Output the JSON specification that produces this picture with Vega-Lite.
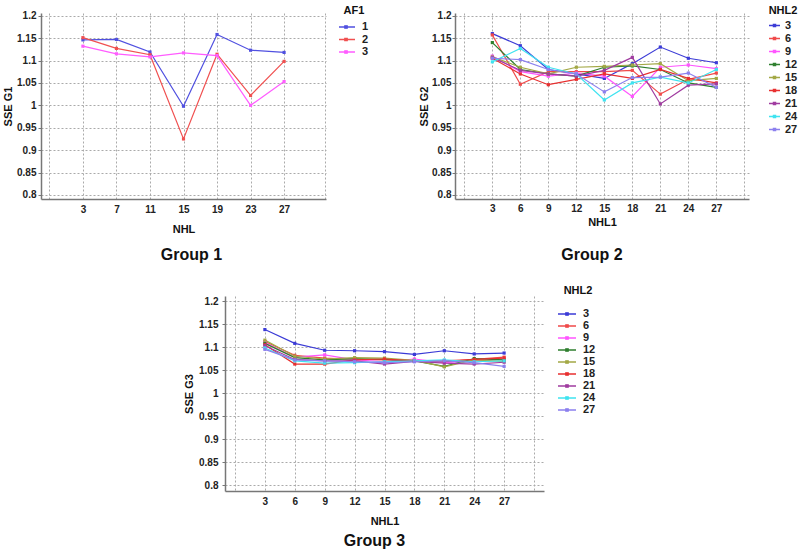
{
  "$schema": "https://vega.github.io/schema/vega-lite/v6.json",
  "background": "white",
  "padding": {"left": 2, "top": 4, "right": 2, "bottom": 2},
  "config": {
    "font": "Liberation Sans",
    "view": {"stroke": null},
    "axis": {
      "labelFont": "Liberation Sans Narrow, Liberation Sans",
      "labelFontWeight": "bold",
      "labelFontSize": 10,
      "labelColor": "#222",
      "titleFont": "Liberation Sans",
      "titleFontWeight": "bold",
      "titleFontSize": 11,
      "titleColor": "#111",
      "gridColor": "#aaaaaa",
      "gridDash": [2, 2],
      "gridWidth": 1,
      "domainColor": "#777777",
      "domainWidth": 1.5,
      "tickColor": "#777777",
      "tickSize": 3
    },
    "legend": {
      "titleFont": "Liberation Sans",
      "titleFontWeight": "bold",
      "titleFontSize": 11,
      "titleColor": "#111",
      "labelFont": "Liberation Sans Narrow, Liberation Sans",
      "labelFontWeight": "bold",
      "labelFontSize": 11,
      "labelColor": "#222",
      "titleAnchor": "middle",
      "symbolStrokeWidth": 1.3,
      "rowPadding": 1,
      "labelOffset": 4
    },
    "title": {"font": "Liberation Sans", "fontSize": 16, "fontWeight": "bold", "color": "#111"}
  },
  "datasets": {
    "g1": [
      {"NHL": 3, "AF1": "1", "SSE": 1.146}, {"NHL": 7, "AF1": "1", "SSE": 1.147}, {"NHL": 11, "AF1": "1", "SSE": 1.119}, {"NHL": 15, "AF1": "1", "SSE": 0.998}, {"NHL": 19, "AF1": "1", "SSE": 1.158}, {"NHL": 23, "AF1": "1", "SSE": 1.123}, {"NHL": 27, "AF1": "1", "SSE": 1.118},
      {"NHL": 3, "AF1": "2", "SSE": 1.151}, {"NHL": 7, "AF1": "2", "SSE": 1.127}, {"NHL": 11, "AF1": "2", "SSE": 1.113}, {"NHL": 15, "AF1": "2", "SSE": 0.925}, {"NHL": 19, "AF1": "2", "SSE": 1.114}, {"NHL": 23, "AF1": "2", "SSE": 1.022}, {"NHL": 27, "AF1": "2", "SSE": 1.098},
      {"NHL": 3, "AF1": "3", "SSE": 1.132}, {"NHL": 7, "AF1": "3", "SSE": 1.115}, {"NHL": 11, "AF1": "3", "SSE": 1.108}, {"NHL": 15, "AF1": "3", "SSE": 1.117}, {"NHL": 19, "AF1": "3", "SSE": 1.111}, {"NHL": 23, "AF1": "3", "SSE": 1.000}, {"NHL": 27, "AF1": "3", "SSE": 1.053}
    ],
    "g2": [
      {"NHL1": 3, "NHL2": "3", "SSE": 1.160}, {"NHL1": 6, "NHL2": "3", "SSE": 1.133}, {"NHL1": 9, "NHL2": "3", "SSE": 1.080}, {"NHL1": 12, "NHL2": "3", "SSE": 1.070}, {"NHL1": 15, "NHL2": "3", "SSE": 1.060}, {"NHL1": 18, "NHL2": "3", "SSE": 1.093}, {"NHL1": 21, "NHL2": "3", "SSE": 1.130}, {"NHL1": 24, "NHL2": "3", "SSE": 1.105}, {"NHL1": 27, "NHL2": "3", "SSE": 1.095},
      {"NHL1": 3, "NHL2": "6", "SSE": 1.157}, {"NHL1": 6, "NHL2": "6", "SSE": 1.047}, {"NHL1": 9, "NHL2": "6", "SSE": 1.075}, {"NHL1": 12, "NHL2": "6", "SSE": 1.075}, {"NHL1": 15, "NHL2": "6", "SSE": 1.075}, {"NHL1": 18, "NHL2": "6", "SSE": 1.078}, {"NHL1": 21, "NHL2": "6", "SSE": 1.025}, {"NHL1": 24, "NHL2": "6", "SSE": 1.058}, {"NHL1": 27, "NHL2": "6", "SSE": 1.072},
      {"NHL1": 3, "NHL2": "9", "SSE": 1.110}, {"NHL1": 6, "NHL2": "9", "SSE": 1.075}, {"NHL1": 9, "NHL2": "9", "SSE": 1.065}, {"NHL1": 12, "NHL2": "9", "SSE": 1.072}, {"NHL1": 15, "NHL2": "9", "SSE": 1.065}, {"NHL1": 18, "NHL2": "9", "SSE": 1.020}, {"NHL1": 21, "NHL2": "9", "SSE": 1.085}, {"NHL1": 24, "NHL2": "9", "SSE": 1.090}, {"NHL1": 27, "NHL2": "9", "SSE": 1.082},
      {"NHL1": 3, "NHL2": "12", "SSE": 1.140}, {"NHL1": 6, "NHL2": "12", "SSE": 1.080}, {"NHL1": 9, "NHL2": "12", "SSE": 1.070}, {"NHL1": 12, "NHL2": "12", "SSE": 1.065}, {"NHL1": 15, "NHL2": "12", "SSE": 1.085}, {"NHL1": 18, "NHL2": "12", "SSE": 1.088}, {"NHL1": 21, "NHL2": "12", "SSE": 1.080}, {"NHL1": 24, "NHL2": "12", "SSE": 1.050}, {"NHL1": 27, "NHL2": "12", "SSE": 1.040},
      {"NHL1": 3, "NHL2": "15", "SSE": 1.108}, {"NHL1": 6, "NHL2": "15", "SSE": 1.085}, {"NHL1": 9, "NHL2": "15", "SSE": 1.070}, {"NHL1": 12, "NHL2": "15", "SSE": 1.085}, {"NHL1": 15, "NHL2": "15", "SSE": 1.087}, {"NHL1": 18, "NHL2": "15", "SSE": 1.090}, {"NHL1": 21, "NHL2": "15", "SSE": 1.093}, {"NHL1": 24, "NHL2": "15", "SSE": 1.055}, {"NHL1": 27, "NHL2": "15", "SSE": 1.060},
      {"NHL1": 3, "NHL2": "18", "SSE": 1.105}, {"NHL1": 6, "NHL2": "18", "SSE": 1.070}, {"NHL1": 9, "NHL2": "18", "SSE": 1.046}, {"NHL1": 12, "NHL2": "18", "SSE": 1.058}, {"NHL1": 15, "NHL2": "18", "SSE": 1.070}, {"NHL1": 18, "NHL2": "18", "SSE": 1.060}, {"NHL1": 21, "NHL2": "18", "SSE": 1.080}, {"NHL1": 24, "NHL2": "18", "SSE": 1.060}, {"NHL1": 27, "NHL2": "18", "SSE": 1.050},
      {"NHL1": 3, "NHL2": "21", "SSE": 1.107}, {"NHL1": 6, "NHL2": "21", "SSE": 1.078}, {"NHL1": 9, "NHL2": "21", "SSE": 1.070}, {"NHL1": 12, "NHL2": "21", "SSE": 1.065}, {"NHL1": 15, "NHL2": "21", "SSE": 1.078}, {"NHL1": 18, "NHL2": "21", "SSE": 1.107}, {"NHL1": 21, "NHL2": "21", "SSE": 1.003}, {"NHL1": 24, "NHL2": "21", "SSE": 1.045}, {"NHL1": 27, "NHL2": "21", "SSE": 1.048},
      {"NHL1": 3, "NHL2": "24", "SSE": 1.097}, {"NHL1": 6, "NHL2": "24", "SSE": 1.127}, {"NHL1": 9, "NHL2": "24", "SSE": 1.085}, {"NHL1": 12, "NHL2": "24", "SSE": 1.070}, {"NHL1": 15, "NHL2": "24", "SSE": 1.012}, {"NHL1": 18, "NHL2": "24", "SSE": 1.050}, {"NHL1": 21, "NHL2": "24", "SSE": 1.063}, {"NHL1": 24, "NHL2": "24", "SSE": 1.050}, {"NHL1": 27, "NHL2": "24", "SSE": 1.080},
      {"NHL1": 3, "NHL2": "27", "SSE": 1.105}, {"NHL1": 6, "NHL2": "27", "SSE": 1.102}, {"NHL1": 9, "NHL2": "27", "SSE": 1.080}, {"NHL1": 12, "NHL2": "27", "SSE": 1.070}, {"NHL1": 15, "NHL2": "27", "SSE": 1.030}, {"NHL1": 18, "NHL2": "27", "SSE": 1.062}, {"NHL1": 21, "NHL2": "27", "SSE": 1.063}, {"NHL1": 24, "NHL2": "27", "SSE": 1.072}, {"NHL1": 27, "NHL2": "27", "SSE": 1.040}
    ],
    "g3": [
      {"NHL1": 3, "NHL2": "3", "SSE": 1.138}, {"NHL1": 6, "NHL2": "3", "SSE": 1.108}, {"NHL1": 9, "NHL2": "3", "SSE": 1.093}, {"NHL1": 12, "NHL2": "3", "SSE": 1.092}, {"NHL1": 15, "NHL2": "3", "SSE": 1.090}, {"NHL1": 18, "NHL2": "3", "SSE": 1.084}, {"NHL1": 21, "NHL2": "3", "SSE": 1.092}, {"NHL1": 24, "NHL2": "3", "SSE": 1.085}, {"NHL1": 27, "NHL2": "3", "SSE": 1.087},
      {"NHL1": 3, "NHL2": "6", "SSE": 1.112}, {"NHL1": 6, "NHL2": "6", "SSE": 1.082}, {"NHL1": 9, "NHL2": "6", "SSE": 1.076}, {"NHL1": 12, "NHL2": "6", "SSE": 1.073}, {"NHL1": 15, "NHL2": "6", "SSE": 1.072}, {"NHL1": 18, "NHL2": "6", "SSE": 1.070}, {"NHL1": 21, "NHL2": "6", "SSE": 1.070}, {"NHL1": 24, "NHL2": "6", "SSE": 1.073}, {"NHL1": 27, "NHL2": "6", "SSE": 1.078},
      {"NHL1": 3, "NHL2": "9", "SSE": 1.110}, {"NHL1": 6, "NHL2": "9", "SSE": 1.078}, {"NHL1": 9, "NHL2": "9", "SSE": 1.083}, {"NHL1": 12, "NHL2": "9", "SSE": 1.072}, {"NHL1": 15, "NHL2": "9", "SSE": 1.068}, {"NHL1": 18, "NHL2": "9", "SSE": 1.074}, {"NHL1": 21, "NHL2": "9", "SSE": 1.066}, {"NHL1": 24, "NHL2": "9", "SSE": 1.070}, {"NHL1": 27, "NHL2": "9", "SSE": 1.074},
      {"NHL1": 3, "NHL2": "12", "SSE": 1.108}, {"NHL1": 6, "NHL2": "12", "SSE": 1.077}, {"NHL1": 9, "NHL2": "12", "SSE": 1.072}, {"NHL1": 12, "NHL2": "12", "SSE": 1.075}, {"NHL1": 15, "NHL2": "12", "SSE": 1.073}, {"NHL1": 18, "NHL2": "12", "SSE": 1.070}, {"NHL1": 21, "NHL2": "12", "SSE": 1.058}, {"NHL1": 24, "NHL2": "12", "SSE": 1.075}, {"NHL1": 27, "NHL2": "12", "SSE": 1.072},
      {"NHL1": 3, "NHL2": "15", "SSE": 1.115}, {"NHL1": 6, "NHL2": "15", "SSE": 1.080}, {"NHL1": 9, "NHL2": "15", "SSE": 1.074}, {"NHL1": 12, "NHL2": "15", "SSE": 1.077}, {"NHL1": 15, "NHL2": "15", "SSE": 1.076}, {"NHL1": 18, "NHL2": "15", "SSE": 1.071}, {"NHL1": 21, "NHL2": "15", "SSE": 1.057}, {"NHL1": 24, "NHL2": "15", "SSE": 1.072}, {"NHL1": 27, "NHL2": "15", "SSE": 1.069},
      {"NHL1": 3, "NHL2": "18", "SSE": 1.105}, {"NHL1": 6, "NHL2": "18", "SSE": 1.063}, {"NHL1": 9, "NHL2": "18", "SSE": 1.063}, {"NHL1": 12, "NHL2": "18", "SSE": 1.072}, {"NHL1": 15, "NHL2": "18", "SSE": 1.074}, {"NHL1": 18, "NHL2": "18", "SSE": 1.070}, {"NHL1": 21, "NHL2": "18", "SSE": 1.068}, {"NHL1": 24, "NHL2": "18", "SSE": 1.073}, {"NHL1": 27, "NHL2": "18", "SSE": 1.076},
      {"NHL1": 3, "NHL2": "21", "SSE": 1.103}, {"NHL1": 6, "NHL2": "21", "SSE": 1.073}, {"NHL1": 9, "NHL2": "21", "SSE": 1.070}, {"NHL1": 12, "NHL2": "21", "SSE": 1.070}, {"NHL1": 15, "NHL2": "21", "SSE": 1.063}, {"NHL1": 18, "NHL2": "21", "SSE": 1.069}, {"NHL1": 21, "NHL2": "21", "SSE": 1.065}, {"NHL1": 24, "NHL2": "21", "SSE": 1.063}, {"NHL1": 27, "NHL2": "21", "SSE": 1.067},
      {"NHL1": 3, "NHL2": "24", "SSE": 1.098}, {"NHL1": 6, "NHL2": "24", "SSE": 1.070}, {"NHL1": 9, "NHL2": "24", "SSE": 1.065}, {"NHL1": 12, "NHL2": "24", "SSE": 1.066}, {"NHL1": 15, "NHL2": "24", "SSE": 1.068}, {"NHL1": 18, "NHL2": "24", "SSE": 1.070}, {"NHL1": 21, "NHL2": "24", "SSE": 1.072}, {"NHL1": 24, "NHL2": "24", "SSE": 1.068}, {"NHL1": 27, "NHL2": "24", "SSE": 1.070},
      {"NHL1": 3, "NHL2": "27", "SSE": 1.095}, {"NHL1": 6, "NHL2": "27", "SSE": 1.072}, {"NHL1": 9, "NHL2": "27", "SSE": 1.070}, {"NHL1": 12, "NHL2": "27", "SSE": 1.068}, {"NHL1": 15, "NHL2": "27", "SSE": 1.066}, {"NHL1": 18, "NHL2": "27", "SSE": 1.068}, {"NHL1": 21, "NHL2": "27", "SSE": 1.070}, {"NHL1": 24, "NHL2": "27", "SSE": 1.066}, {"NHL1": 27, "NHL2": "27", "SSE": 1.058}
    ]
  },
  "resolve": {"scale": {"color": "independent"}, "legend": {"color": "independent"}},
  "center": true,
  "spacing": 4,
  "vconcat": [
    {
      "bounds": "flush",
      "spacing": 129,
      "resolve": {"scale": {"color": "independent"}, "legend": {"color": "independent"}},
      "hconcat": [
        {
          "width": 285,
          "height": 186,
          "data": {"name": "g1"},
          "title": {"text": "Group 1", "orient": "bottom", "offset": 13, "dx": 8},
          "mark": {"type": "line", "strokeWidth": 1.2, "point": {"filled": true, "size": 10, "shape": "square"}},
          "encoding": {
            "x": {"field": "NHL", "type": "quantitative", "scale": {"domain": [-2, 32], "nice": false, "zero": false},
              "axis": {"values": [-1, 3, 7, 11, 15, 19, 23, 27, 31.9], "labelExpr": "datum.value >= 3 && datum.value <= 27 ? datum.label : ''", "title": "NHL", "ticks": false, "labelPadding": 5, "titlePadding": 9}},
            "y": {"field": "SSE", "type": "quantitative", "scale": {"domain": [0.791, 1.206], "nice": false, "zero": false},
              "axis": {"values": [0.8, 0.85, 0.9, 0.95, 1, 1.05, 1.1, 1.15, 1.2], "format": ".3~g", "title": "SSE G1", "labelPadding": 2, "titlePadding": 3}},
            "color": {"field": "AF1", "type": "nominal", "scale": {"domain": ["1", "2", "3"], "range": ["#5050e0", "#f05050", "#ff5cff"]},
              "legend": {"orient": "none", "legendX": 297, "legendY": -9, "padding": 1, "columns": 1, "gridAlign": "none", "symbolType": "M-1.5,0H1.5M-0.2,-0.2H0.2V0.2H-0.2Z", "symbolSize": 144, "labelOffset": 9, "titlePadding": 5, "rowPadding": 0.5, "clipHeight": 12}}
          }
        },
        {
          "width": 294,
          "height": 186,
          "data": {"name": "g2"},
          "title": {"text": "Group 2", "orient": "bottom", "offset": 20, "dx": -10},
          "mark": {"type": "line", "strokeWidth": 1.2, "point": {"filled": true, "size": 10, "shape": "square"}},
          "encoding": {
            "x": {"field": "NHL1", "type": "quantitative", "scale": {"domain": [-1, 30.5], "nice": false, "zero": false},
              "axis": {"values": [0, 3, 6, 9, 12, 15, 18, 21, 24, 27, 30], "labelExpr": "datum.value >= 3 && datum.value <= 27 ? datum.label : ''", "title": "NHL1", "ticks": false, "labelPadding": 4, "titlePadding": 3}},
            "y": {"field": "SSE", "type": "quantitative", "scale": {"domain": [0.791, 1.206], "nice": false, "zero": false},
              "axis": {"values": [0.8, 0.85, 0.9, 0.95, 1, 1.05, 1.1, 1.15, 1.2], "format": ".3~g", "title": "SSE G2", "labelPadding": 1, "titlePadding": 2}},
            "color": {"field": "NHL2", "type": "nominal", "scale": {"domain": ["3", "6", "9", "12", "15", "18", "21", "24", "27"], "range": ["#3b3bd6", "#f04a4a", "#ff55ff", "#2f7f2f", "#a3a845", "#e83030", "#a03ca0", "#3fe3f0", "#8c80ee"]},
              "legend": {"orient": "none", "legendX": 313, "legendY": -8, "symbolType": "M-1,0H1M-0.2,-0.2H0.2V0.2H-0.2Z", "symbolSize": 121, "titlePadding": 3, "rowPadding": 1}}
          }
        }
      ]
    },
    {
      "width": 319,
      "height": 195,
      "data": {"name": "g3"},
      "title": {"text": "Group 3", "orient": "bottom", "offset": 7, "dx": -10},
      "mark": {"type": "line", "strokeWidth": 1.2, "point": {"filled": true, "size": 10, "shape": "square"}},
      "encoding": {
        "x": {"field": "NHL1", "type": "quantitative", "scale": {"domain": [-1, 31], "nice": false, "zero": false},
          "axis": {"values": [0, 3, 6, 9, 12, 15, 18, 21, 24, 27, 30], "labelExpr": "datum.value >= 3 && datum.value <= 27 ? datum.label : ''", "title": "NHL1", "ticks": false, "labelPadding": 5, "titlePadding": 9}},
        "y": {"field": "SSE", "type": "quantitative", "scale": {"domain": [0.787, 1.211], "nice": false, "zero": false},
          "axis": {"values": [0.8, 0.85, 0.9, 0.95, 1, 1.05, 1.1, 1.15, 1.2], "format": ".3~g", "title": "SSE G3", "labelPadding": 4, "titlePadding": 4}},
        "color": {"field": "NHL2", "type": "nominal", "scale": {"domain": ["3", "6", "9", "12", "15", "18", "21", "24", "27"], "range": ["#3b3bd6", "#f04a4a", "#ff55ff", "#2f7f2f", "#a3a845", "#e83030", "#a03ca0", "#3fe3f0", "#8c80ee"]},
          "legend": {"orient": "none", "legendX": 317, "legendY": -29, "padding": 18, "symbolType": "M-1.5,0H1.5M-0.2,-0.2H0.2V0.2H-0.2Z", "symbolSize": 144, "labelOffset": 9, "titlePadding": 11, "rowPadding": 0}}
      }
    }
  ]
}
